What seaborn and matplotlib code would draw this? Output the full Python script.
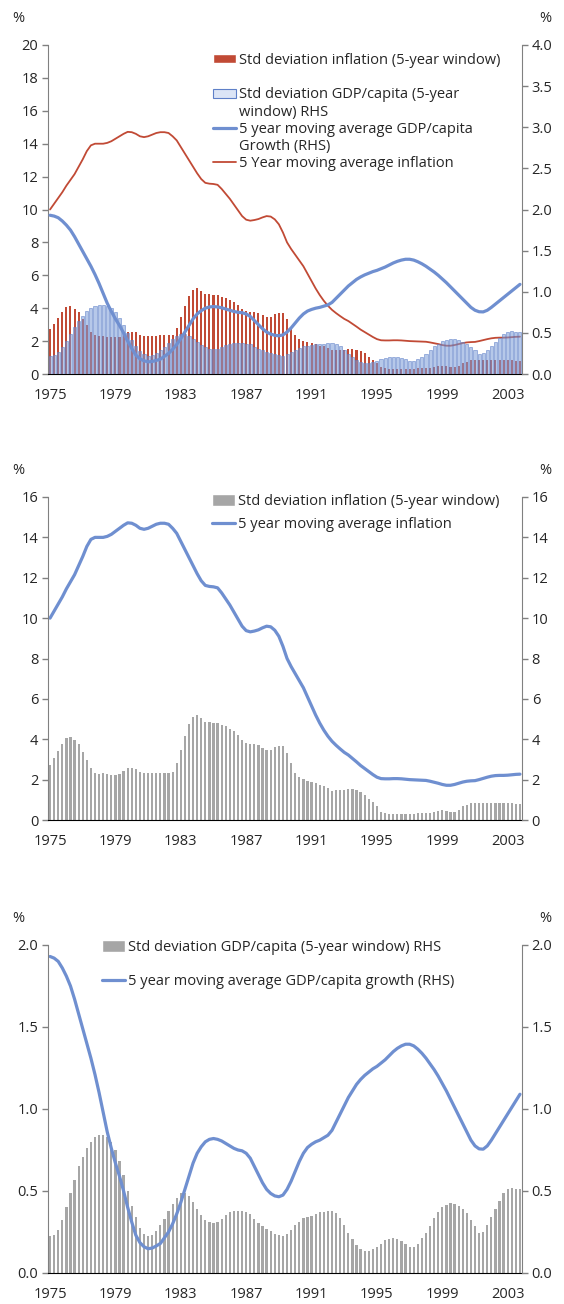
import numpy as np
import pandas as pd
import seaborn as sns
import matplotlib.pyplot as plt
from matplotlib.ticker import FormatStrFormatter, FixedLocator
from matplotlib.patches import Rectangle
from matplotlib.lines import Line2D

# quarterly observations 1975Q1 .. 2003Q4
quarters = np.arange(1975, 2004, 0.25)

# std deviation of inflation, 5-year window (lhs)
infl_sd = [2.74, 3.05, 3.42, 3.78, 4.06, 4.11, 3.98, 3.74, 3.37, 2.95, 2.58, 2.35,
           2.28, 2.31, 2.26, 2.23, 2.23, 2.26, 2.43, 2.58, 2.58, 2.54, 2.40, 2.31,
           2.31, 2.31, 2.31, 2.35, 2.35, 2.35, 2.40, 2.82, 3.46, 4.15, 4.76, 5.12,
           5.22, 5.05, 4.86, 4.85, 4.82, 4.80, 4.71, 4.65, 4.52, 4.40, 4.22, 3.98,
           3.83, 3.77, 3.77, 3.72, 3.57, 3.46, 3.46, 3.62, 3.69, 3.69, 3.34, 2.82,
           2.35, 2.12, 2.03, 1.94, 1.88, 1.85, 1.71, 1.69, 1.60, 1.45, 1.48, 1.48,
           1.48, 1.52, 1.52, 1.48, 1.38, 1.25, 1.06, 0.88, 0.69, 0.42, 0.37, 0.28,
           0.32, 0.32, 0.32, 0.32, 0.32, 0.32, 0.37, 0.37, 0.37, 0.37, 0.42, 0.46,
           0.51, 0.46, 0.42, 0.42, 0.51, 0.69, 0.74, 0.83, 0.83, 0.83, 0.83, 0.83,
           0.83, 0.83, 0.83, 0.83, 0.83, 0.83, 0.80, 0.80]

# 5 year moving average inflation
infl_ma = [10.0, 10.35, 10.7, 11.05, 11.45, 11.8, 12.15, 12.6, 13.05, 13.55, 13.9, 14.0,
           14.0, 14.0, 14.05, 14.15, 14.3, 14.45, 14.6, 14.72, 14.7, 14.6, 14.45, 14.4,
           14.45, 14.55, 14.65, 14.7, 14.7, 14.65, 14.45, 14.2, 13.8, 13.4, 13.0, 12.6,
           12.2, 11.85, 11.62, 11.57, 11.55, 11.5, 11.25, 10.95, 10.65, 10.3, 9.95, 9.6,
           9.38, 9.32, 9.36, 9.42, 9.52, 9.6, 9.57, 9.4, 9.1, 8.6, 8.0, 7.6,
           7.25, 6.9, 6.55, 6.1, 5.65, 5.2, 4.8, 4.45, 4.15, 3.9, 3.7, 3.52,
           3.35, 3.22, 3.05, 2.88, 2.7, 2.55, 2.4, 2.25, 2.12, 2.05, 2.04, 2.04,
           2.05, 2.05, 2.04, 2.02, 2.0, 1.99, 1.98, 1.97, 1.96, 1.92, 1.87, 1.82,
           1.76, 1.72, 1.72, 1.76, 1.82, 1.88, 1.92, 1.94, 1.95, 2.0, 2.06, 2.12,
           2.17, 2.2, 2.21, 2.21, 2.22, 2.24, 2.26, 2.27]

# std deviation of GDP/capita growth, 5-year window (rhs)
gdp_sd = [0.223, 0.229, 0.263, 0.326, 0.405, 0.49, 0.57, 0.65, 0.71, 0.76, 0.80, 0.83,
          0.84, 0.84, 0.83, 0.80, 0.75, 0.68, 0.60, 0.50, 0.41, 0.34, 0.275, 0.24,
          0.223, 0.229, 0.258, 0.29, 0.33, 0.377, 0.42, 0.46, 0.485, 0.485, 0.468, 0.43,
          0.39, 0.354, 0.326, 0.309, 0.303, 0.309, 0.33, 0.354, 0.37, 0.377, 0.377, 0.377,
          0.37, 0.36, 0.33, 0.303, 0.286, 0.269, 0.258, 0.24, 0.229, 0.223, 0.24, 0.263,
          0.29, 0.314, 0.337, 0.343, 0.348, 0.36, 0.37, 0.37, 0.377, 0.377, 0.366, 0.337,
          0.29, 0.246, 0.206, 0.172, 0.144, 0.133, 0.133, 0.144, 0.161, 0.178, 0.20, 0.206,
          0.212, 0.206, 0.195, 0.178, 0.161, 0.161, 0.178, 0.212, 0.246, 0.286, 0.337, 0.37,
          0.40, 0.417, 0.428, 0.422, 0.41, 0.39, 0.366, 0.326, 0.286, 0.246, 0.252, 0.29,
          0.343, 0.39, 0.44, 0.485, 0.51, 0.52, 0.515, 0.51]

# 5 year moving average GDP/capita growth (rhs)
gdp_ma = [1.93, 1.92, 1.90, 1.86, 1.81, 1.75, 1.67, 1.58, 1.49, 1.40, 1.31, 1.21,
          1.10, 0.98, 0.86, 0.76, 0.67, 0.59, 0.50, 0.40, 0.31, 0.23, 0.185, 0.16,
          0.148, 0.152, 0.165, 0.18, 0.215, 0.25, 0.30, 0.36, 0.43, 0.51, 0.59, 0.67,
          0.73, 0.77, 0.80, 0.815, 0.82, 0.815, 0.805, 0.79, 0.775, 0.76, 0.75, 0.745,
          0.73, 0.70, 0.65, 0.60, 0.55, 0.51, 0.485, 0.47, 0.465, 0.475, 0.51, 0.56,
          0.62, 0.68, 0.73, 0.765, 0.785, 0.80, 0.81, 0.825, 0.84, 0.87, 0.92, 0.97,
          1.02, 1.07, 1.11, 1.15, 1.18, 1.205, 1.225, 1.245, 1.26, 1.28, 1.30, 1.325,
          1.35, 1.37, 1.385, 1.395, 1.395, 1.385, 1.365, 1.34, 1.31, 1.275, 1.24, 1.20,
          1.155, 1.11, 1.06, 1.01, 0.96, 0.91, 0.86, 0.81, 0.775, 0.757, 0.755, 0.775,
          0.81, 0.85, 0.89, 0.93, 0.97, 1.01, 1.05, 1.09]

label_years = [1975, 1979, 1983, 1987, 1991, 1995, 1999, 2003]

df = pd.DataFrame({"year": quarters, "infl_sd": infl_sd, "infl_ma": infl_ma,
                   "gdp_sd": gdp_sd, "gdp_ma": gdp_ma})

RED = "#C14A35"
BLUE = "#6F8FD0"
GREY = "#A6A6A6"
FS = 10.5

sns.set_style("white")
plt.rcParams["font.family"] = ["Open Sans", "DejaVu Sans"]

fig = plt.figure(figsize=(5.64, 13.04), dpi=100)
W, H = 564, 1304


def add_axes(top, bottom, left=48, right=522):
    return fig.add_axes([left / W, 1 - bottom / H, (right - left) / W, (bottom - top) / H])


def style(ax, ax2, ymax, step, fmt):
    for a in (ax, ax2):
        a.set_xlabel("")
        a.set_ylabel("")
        a.spines["top"].set_visible(False)
        a.set_ylim(0, ymax)
        a.set_yticks(np.arange(0, ymax + step / 2, step))
        a.yaxis.set_major_formatter(FormatStrFormatter(fmt))
        a.tick_params(axis="y", direction="out", length=4, width=1, color="#808080",
                      labelsize=FS, pad=3)
    ax.spines["left"].set_color("#808080")
    ax2.spines["right"].set_color("#808080")
    ax2.spines["left"].set_visible(False)
    ax2.spines["bottom"].set_visible(False)
    ax.spines["right"].set_visible(False)
    ax.spines["bottom"].set_color("black")
    ax.set_xlim(1974.875, 2003.875)
    ax.set_xticks(label_years)
    ax.set_xticklabels([str(y) for y in label_years])
    ax.xaxis.set_minor_locator(FixedLocator(np.arange(1975, 2004) - 0.125))
    ax.tick_params(axis="x", which="major", length=0, labelsize=FS, pad=10)
    ax.tick_params(axis="x", which="minor", length=4, width=1, color="black", direction="out")
    for a in (ax, ax2):
        if a.get_legend() is not None:
            a.get_legend().remove()


def pct(y):
    fig.text(18 / W, 1 - y / H, "%", ha="center", va="center", fontsize=FS)
    fig.text(545 / W, 1 - y / H, "%", ha="center", va="center", fontsize=FS)


# ---------- panel 1 ----------
ax = add_axes(45, 374)
ax2 = ax.twinx()
sns.barplot(data=df, x="year", y="infl_sd", native_scale=True, color=RED, saturation=1,
            width=0.5, errorbar=None, linewidth=0, ax=ax)
sns.lineplot(data=df, x="year", y="infl_ma", color=RED, linewidth=1.3, ax=ax)
sns.barplot(data=df, x="year", y="gdp_sd", native_scale=True, color="#7B9BD8", saturation=1,
            width=0.75, errorbar=None, alpha=0.55, edgecolor="#5F80C8", linewidth=0.7, ax=ax2)
sns.lineplot(data=df, x="year", y="gdp_ma", color=BLUE, linewidth=2.3, ax=ax2)
style(ax, ax2, 20, 2, "%d")
ax2.set_ylim(0, 4)
ax2.set_yticks(np.arange(0, 4.01, 0.5))
ax2.yaxis.set_major_formatter(FormatStrFormatter("%.1f"))
pct(18)

blank = Rectangle((0, 0), 0, 0, visible=False)
h1 = [Rectangle((0, 0), 1, 1, facecolor=RED), blank,
      Rectangle((0, 0), 1, 1, facecolor="#DCE5F6", edgecolor="#5F80C8", linewidth=0.8), blank,
      Line2D([], [], color=BLUE, linewidth=2.3), blank,
      Line2D([], [], color=RED, linewidth=1.3)]
l1 = ["Std deviation inflation (5-year window)", " ",
      "Std deviation GDP/capita (5-year", "window) RHS",
      "5 year moving average GDP/capita", "Growth (RHS)",
      "5 Year moving average inflation"]
fig.legend(h1, l1, loc="upper left", bbox_to_anchor=(213 / W, 1 - 53 / H), frameon=False,
           fontsize=FS, handlelength=1.55, handleheight=0.6, handletextpad=0.25,
           labelspacing=0.15, borderpad=0, borderaxespad=0)

# ---------- panel 2 ----------
ax = add_axes(497, 820)
ax2 = ax.twinx()
sns.barplot(data=df, x="year", y="infl_sd", native_scale=True, color=GREY, saturation=1,
            width=0.55, errorbar=None, linewidth=0, ax=ax)
sns.lineplot(data=df, x="year", y="infl_ma", color=BLUE, linewidth=2.3, ax=ax)
style(ax, ax2, 16, 2, "%d")
pct(470)
h2 = [Rectangle((0, 0), 1, 1, facecolor=GREY), Line2D([], [], color=BLUE, linewidth=2.3)]
l2 = ["Std deviation inflation (5-year window)", "5 year moving average inflation"]
fig.legend(h2, l2, loc="upper left", bbox_to_anchor=(212 / W, 1 - 494 / H), frameon=False,
           fontsize=FS, handlelength=1.55, handleheight=0.8, handletextpad=0.25,
           labelspacing=0.55, borderpad=0, borderaxespad=0)

# ---------- panel 3 ----------
ax = add_axes(945, 1273)
ax2 = ax.twinx()
sns.barplot(data=df, x="year", y="gdp_sd", native_scale=True, color=GREY, saturation=1,
            width=0.55, errorbar=None, linewidth=0, ax=ax)
sns.lineplot(data=df, x="year", y="gdp_ma", color=BLUE, linewidth=2.3, ax=ax)
style(ax, ax2, 2.0, 0.5, "%.1f")
pct(918)
h3 = [Rectangle((0, 0), 1, 1, facecolor=GREY), Line2D([], [], color=BLUE, linewidth=2.3)]
l3 = ["Std deviation GDP/capita (5-year window) RHS",
      "5 year moving average GDP/capita growth (RHS)"]
fig.legend(h3, l3, loc="upper left", bbox_to_anchor=(102 / W, 1 - 940 / H), frameon=False,
           fontsize=FS, handlelength=1.55, handleheight=0.8, handletextpad=0.25,
           labelspacing=1.3, borderpad=0, borderaxespad=0)

fig.savefig("out.png", dpi=100)
